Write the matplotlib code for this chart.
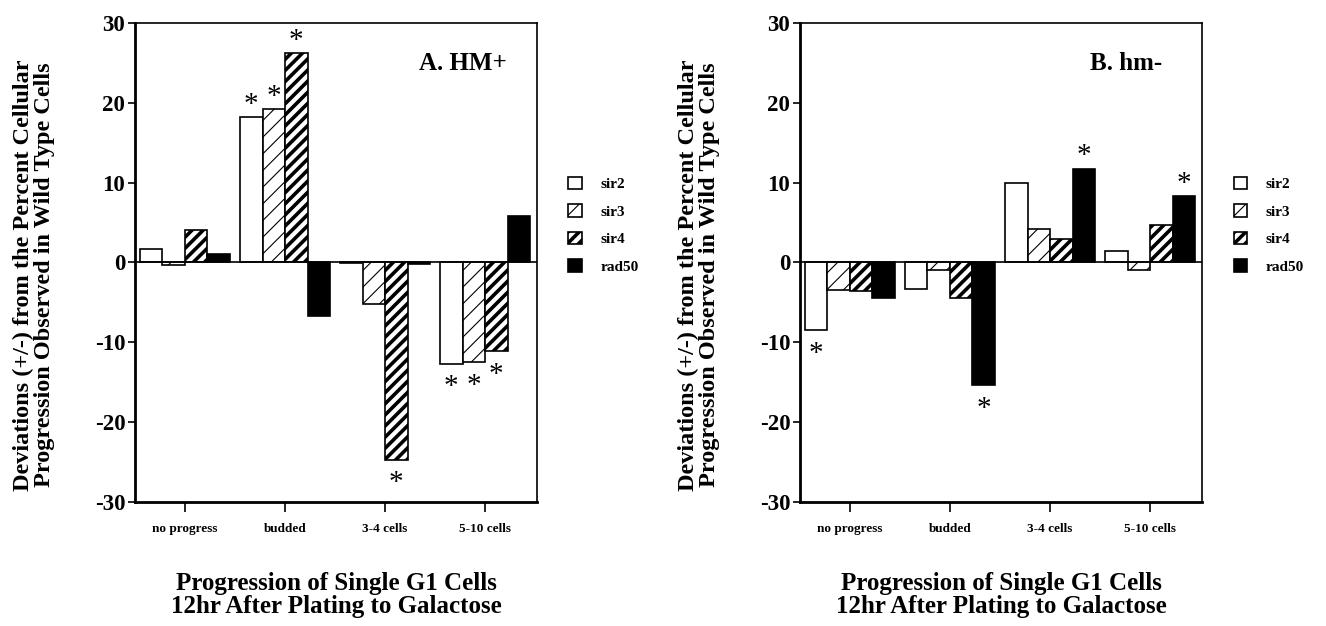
import numpy as np
import matplotlib
matplotlib.use('Agg')
import matplotlib.pyplot as plt

plt.rcParams['font.family'] = ['Liberation Serif', 'DejaVu Serif']
plt.rcParams['font.weight'] = 'bold'
plt.rcParams['axes.unicode_minus'] = False

categories = ['no progress', 'budded', '3-4 cells', '5-10 cells']
strains = ['sir2', 'sir3', 'sir4', 'rad50']

# panel A, HM+
hm_plus = {
    'sir2': [1.7, 18.2, -0.1, -12.7],
    'sir3': [-0.3, 19.2, -5.2, -12.5],
    'sir4': [4.1, 26.2, -24.7, -11.1],
    'rad50': [1.0, -6.7, -0.2, 5.8],
}
stars_plus = {
    'sir2': [0, 1, 0, 1],
    'sir3': [0, 1, 0, 1],
    'sir4': [0, 1, 1, 1],
    'rad50': [0, 0, 0, 0],
}

# panel B, hm-
hm_minus = {
    'sir2': [-8.5, -3.3, 10.0, 1.5],
    'sir3': [-3.4, -1.0, 4.2, -0.9],
    'sir4': [-3.6, -4.5, 3.0, 4.75],
    'rad50': [-4.45, -15.4, 11.75, 8.3],
}
stars_minus = {
    'sir2': [1, 0, 0, 0],
    'sir3': [0, 0, 0, 0],
    'sir4': [0, 0, 0, 0],
    'rad50': [0, 1, 1, 1],
}

styles = {
    'sir2': dict(facecolor='white', hatch=None, hlw=1.0),
    'sir3': dict(facecolor='white', hatch='//', hlw=0.8),
    'sir4': dict(facecolor='white', hatch='///', hlw=2.6),
    'rad50': dict(facecolor='black', hatch=None, hlw=1.0),
}

fig = plt.figure(figsize=(13.26, 6.26), dpi=100)
ax_a = fig.add_axes([0.1018, 0.1981, 0.3032, 0.7652])
ax_b = fig.add_axes([0.6033, 0.1981, 0.3032, 0.7652])

x = np.arange(len(categories))
width = 0.225
offsets = [-1.5 * width, -0.5 * width, 0.5 * width, 1.5 * width]


def draw_panel(ax, data, stars, title, title_x, leg_x):
    handles = []
    for s, off in zip(strains, offsets):
        st = styles[s]
        with plt.rc_context({'hatch.linewidth': st['hlw']}):
            bars = ax.bar(x + off, data[s], width, facecolor=st['facecolor'],
                          edgecolor='black', linewidth=1.2, hatch=st['hatch'],
                          label=s)
        handles.append(bars)
        for xi, v, flag in zip(x + off, data[s], stars[s]):
            if flag:
                sign = 1 if v > 0 else -1
                ax.annotate('*', (xi, v), xytext=(0, sign * 13 - 4),
                            textcoords='offset points', ha='center',
                            va='center', fontsize=21, fontweight='normal')
    ax.axhline(0, color='black', lw=1.2)
    ax.set_xlim(-0.5, 3.52)
    ax.set_ylim(-30, 30)
    ax.set_yticks([-30, -20, -10, 0, 10, 20, 30])
    ax.set_xticks(x)
    ax.set_xticklabels(categories, fontsize=9.5, fontweight='bold')
    ax.tick_params(axis='y', labelsize=16.5, length=5, width=1.2, pad=2)
    ax.tick_params(axis='x', length=7, width=1.2, pad=8)
    for side in ['left', 'bottom']:
        ax.spines[side].set_linewidth(2)
    for side in ['top', 'right']:
        ax.spines[side].set_linewidth(1.2)
    ax.set_ylabel('Deviations (+/-) from the Percent Cellular\n'
                  'Progression Observed in Wild Type Cells',
                  fontsize=17.5, fontweight='bold', linespacing=0.95)
    ax.yaxis.set_label_coords(-0.2, 0.474)
    ax.set_xlabel('Progression of Single G1 Cells\n'
                  '12hr After Plating to Galactose',
                  fontsize=18, fontweight='bold', labelpad=27, linespacing=0.97)
    ax.text(title_x, 0.915, title, transform=ax.transAxes, ha='right',
            va='center', fontsize=18, fontweight='bold')
    leg = ax.legend(handles=handles, loc='upper left',
                    bbox_to_anchor=(leg_x, 0.74), bbox_transform=fig.transFigure,
                    frameon=False, fontsize=11, handlelength=0.9,
                    handleheight=0.9, labelspacing=0.85, handletextpad=1.2)
    for h, s in zip(leg.legend_handles, strains):
        if hasattr(h, 'set_hatch_linewidth'):
            h.set_hatch_linewidth(styles[s]['hlw'])


draw_panel(ax_a, hm_plus, stars_plus, 'A. HM+', 0.925, 0.418)
draw_panel(ax_b, hm_minus, stars_minus, 'B. hm-', 0.9, 0.92)

fig.savefig('out.png', dpi=100)
